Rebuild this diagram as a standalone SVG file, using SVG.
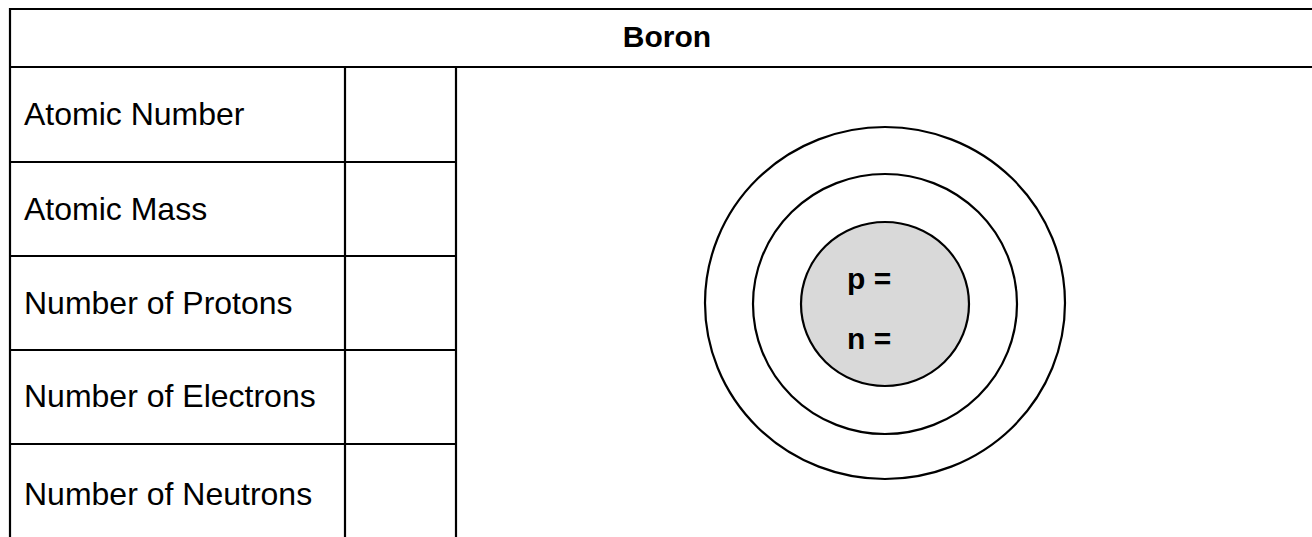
<svg xmlns="http://www.w3.org/2000/svg" width="1312" height="537" viewBox="0 0 1312 537">
<style>
.ln{stroke:#000;stroke-width:2.2;fill:none}
.lbl{font-family:"Liberation Sans",Arial,sans-serif;font-size:32px;fill:#000}
.b{font-family:"Liberation Sans",Arial,sans-serif;font-weight:bold;fill:#000}
.orb{stroke:#000;stroke-width:2.2;fill:none}
</style>
<rect width="1312" height="537" fill="#fff"/>
<g id="table">
<line class="ln" x1="10" y1="9" x2="1312" y2="9"/>
<line class="ln" x1="10" y1="67" x2="1312" y2="67"/>
<line class="ln" x1="10" y1="8" x2="10" y2="537"/>
<line class="ln" x1="345" y1="67" x2="345" y2="537"/>
<line class="ln" x1="456" y1="67" x2="456" y2="537"/>
<line class="ln" x1="10" y1="162" x2="456" y2="162"/>
<line class="ln" x1="10" y1="256" x2="456" y2="256"/>
<line class="ln" x1="10" y1="350" x2="456" y2="350"/>
<line class="ln" x1="10" y1="444" x2="456" y2="444"/>
</g>
<g id="title"><text class="b" x="667" y="47" font-size="30" text-anchor="middle">Boron</text></g>
<g id="labels">
<text class="lbl" x="24" y="125">Atomic Number</text>
<text class="lbl" x="24" y="220">Atomic Mass</text>
<text class="lbl" x="24" y="314">Number of Protons</text>
<text class="lbl" x="24" y="407">Number of Electrons</text>
<text class="lbl" x="24" y="505">Number of Neutrons</text>
</g>
<g id="atom">
<ellipse class="orb" cx="885" cy="303" rx="180" ry="176"/>
<ellipse class="orb" cx="885" cy="304" rx="132" ry="130"/>
<ellipse id="nucleus" cx="885" cy="304" rx="84" ry="82" fill="#d9d9d9" stroke="#000" stroke-width="2.2"/>
<text class="b" x="847" y="289" font-size="30">p =</text>
<text class="b" x="847" y="349" font-size="30">n =</text>
</g>
</svg>
